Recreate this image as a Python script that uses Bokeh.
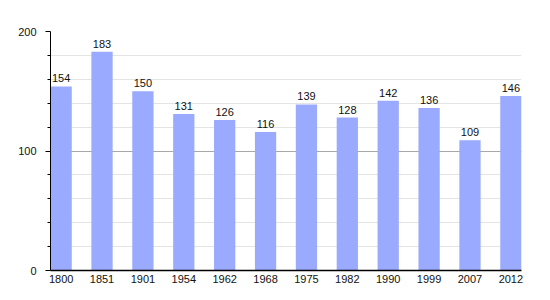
from bokeh.plotting import figure
from bokeh.models import Range1d, FixedTicker, Grid, ColumnDataSource
from bokeh.core.properties import value
from bokeh.embed import file_html
from bokeh.resources import INLINE

years = ["1800", "1851", "1901", "1954", "1962", "1968", "1975", "1982", "1990", "1999", "2007", "2012"]
population = [154, 183, 150, 131, 126, 116, 139, 128, 142, 136, 109, 146]

idx = list(range(len(years)))
src = ColumnDataSource(dict(x=idx, y=population, label=[str(v) for v in population]))

p = figure(width=550, height=300, output_backend="svg", toolbar_location=None,
           x_range=Range1d(-0.26, len(years) - 1 + 0.26), y_range=Range1d(0, 200),
           min_border_left=50, min_border_right=29, min_border_top=31, min_border_bottom=30)
p.outline_line_color = None
p.background_fill_color = "white"
p.border_fill_color = "white"

# grids
p.xgrid.visible = False
p.ygrid.ticker = FixedTicker(ticks=[20, 40, 60, 80, 120, 140, 160, 180])
p.ygrid.grid_line_color = "#e4e4e4"
p.add_layout(Grid(dimension=1, ticker=FixedTicker(ticks=[100, 200]), grid_line_color="#a8a8a8"))

p.vbar(x="x", top="y", width=0.52, bottom=0, source=src, fill_color="#99aaff", line_color=None)
p.text(x="x", y="y", text="label", source=src, text_align="center", text_baseline="bottom",
       y_offset=-4, text_font=value("Liberation Sans"), text_font_size="11px", text_color="#111111")

# y axis
p.yaxis.ticker = FixedTicker(ticks=[0, 100, 200], minor_ticks=list(range(20, 200, 20)))
p.yaxis.axis_line_color = "black"
p.yaxis.major_tick_line_color = "black"
p.yaxis.minor_tick_line_color = "black"
p.yaxis.major_tick_in = 0
p.yaxis.major_tick_out = 5
p.yaxis.minor_tick_in = 0
p.yaxis.minor_tick_out = 3
p.yaxis.major_label_standoff = 9
p.yaxis.major_label_text_font = "Liberation Sans"
p.yaxis.major_label_text_font_size = "11px"
p.yaxis.major_label_text_color = "#111111"

# x axis
p.xaxis.ticker = FixedTicker(ticks=idx)
p.xaxis.major_label_overrides = {i: y for i, y in zip(idx, years)}
p.xaxis.axis_line_color = "black"
p.xaxis.axis_line_width = 1.5
p.xaxis.major_tick_in = 0
p.xaxis.major_tick_out = 0
p.xaxis.minor_tick_line_color = None
p.xaxis.major_label_standoff = 4
p.xaxis.major_label_text_font = "Liberation Sans"
p.xaxis.major_label_text_font_size = "11px"
p.xaxis.major_label_text_color = "#111111"

open("out.html", "w").write(file_html(p, INLINE))
